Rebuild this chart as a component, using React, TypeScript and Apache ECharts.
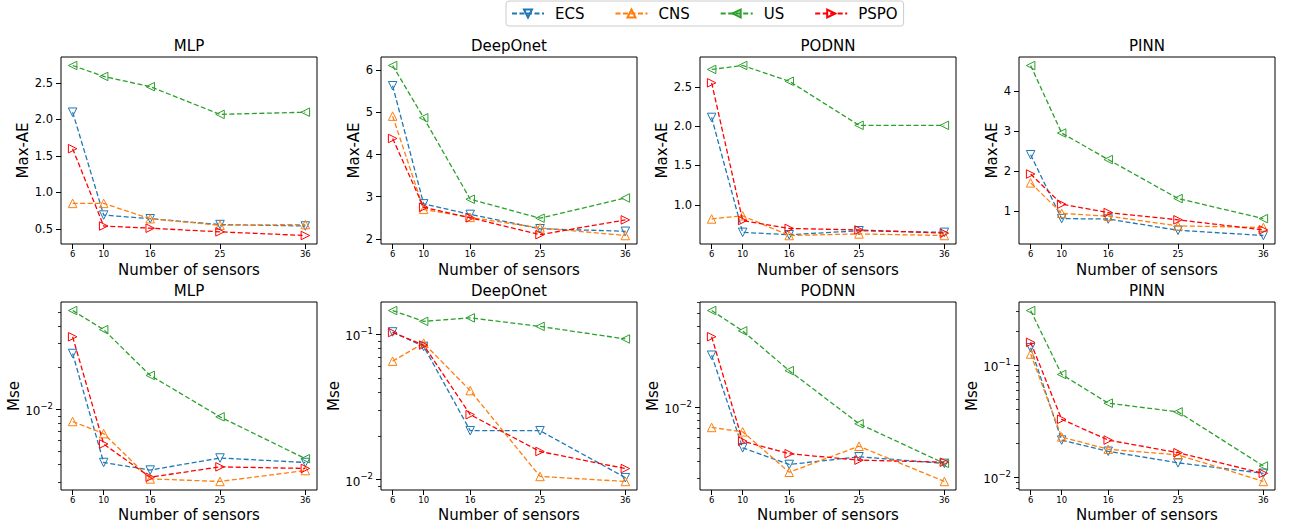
import React, { useEffect, useRef } from 'react';
import * as echarts from 'echarts';

// ---------------- data ----------------
const sensors = [6, 10, 16, 25, 36];
const methods = ['ECS', 'CNS', 'US', 'PSPO'];
const models = ['MLP', 'DeepOnet', 'PODNN', 'PINN'];

// Max-AE (top row)
const maxAE_MLP = {
  ECS: [2.10, 0.69, 0.64, 0.56, 0.54],
  CNS: [0.85, 0.85, 0.64, 0.55, 0.56],
  US: [2.74, 2.59, 2.45, 2.07, 2.10],
  PSPO: [1.60, 0.54, 0.51, 0.46, 0.41],
};
const maxAE_DeepOnet = {
  ECS: [5.63, 2.83, 2.58, 2.24, 2.18],
  CNS: [4.91, 2.70, 2.51, 2.26, 2.08],
  US: [6.11, 4.87, 2.94, 2.49, 2.97],
  PSPO: [4.38, 2.75, 2.50, 2.10, 2.45],
};
const maxAE_PODNN = {
  ECS: [2.11, 0.65, 0.62, 0.67, 0.65],
  CNS: [0.82, 0.86, 0.61, 0.63, 0.61],
  US: [2.72, 2.77, 2.57, 2.01, 2.01],
  PSPO: [2.55, 0.80, 0.70, 0.68, 0.64],
};
const maxAE_PINN = {
  ECS: [2.41, 0.82, 0.81, 0.53, 0.40],
  CNS: [1.71, 0.95, 0.88, 0.64, 0.60],
  US: [4.63, 2.95, 2.29, 1.32, 0.82],
  PSPO: [1.93, 1.18, 0.97, 0.79, 0.54],
};

// Mse (bottom row, log scale)
const mse_MLP = {
  ECS: [0.0253, 0.00415, 0.00366, 0.00447, 0.00415],
  CNS: [0.00819, 0.0067, 0.00316, 0.00303, 0.00363],
  US: [0.0516, 0.0376, 0.0176, 0.00885, 0.00442],
  PSPO: [0.0334, 0.00564, 0.00325, 0.00386, 0.00376],
};
const mse_DeepOnet = {
  ECS: [0.104, 0.0826, 0.0217, 0.0217, 0.0103],
  CNS: [0.0654, 0.087, 0.041, 0.0105, 0.0097],
  US: [0.146, 0.123, 0.130, 0.1135, 0.093],
  PSPO: [0.103, 0.0844, 0.028, 0.0156, 0.0119],
};
const mse_PODNN = {
  ECS: [0.0244, 0.00501, 0.00377, 0.0043, 0.00384],
  CNS: [0.0071, 0.00659, 0.0033, 0.00515, 0.00282],
  US: [0.0524, 0.037, 0.01875, 0.00756, 0.00384],
  PSPO: [0.0335, 0.00562, 0.00453, 0.00406, 0.00392],
};
const mse_PINN = {
  ECS: [0.143, 0.0214, 0.017, 0.0134, 0.0108],
  CNS: [0.1256, 0.0228, 0.0177, 0.0158, 0.00914],
  US: [0.307, 0.0825, 0.0457, 0.0382, 0.01256],
  PSPO: [0.1596, 0.0328, 0.0214, 0.0165, 0.0108],
};

const maxAEPanels = [maxAE_MLP, maxAE_DeepOnet, maxAE_PODNN, maxAE_PINN];
const msePanels = [mse_MLP, mse_DeepOnet, mse_PODNN, mse_PINN];

const maxAETicks = [
  [0.5, 1.0, 1.5, 2.0, 2.5],
  [2, 3, 4, 5, 6],
  [1.0, 1.5, 2.0, 2.5],
  [1, 2, 3, 4],
];
const maxAEDecimals = [1, 0, 1, 0];

// ---------------- styles / layout ----------------
const methodColors = ['#1f77b4', '#ff7f0e', '#2ca02c', '#ff0000'];
const methodRotate = [180, 0, 90, -90];

const FONT = 'DejaVu Sans';
const gridLefts = [61, 381, 700, 1019];
const gridWidth = 256;
const rowTops = [57, 302];
const rowHeights = [187, 188];
const titleTops = [38, 283];
const yNameGapsTop = [25, 20, 24, 18];
const yNameGapsBottom = [39, 39, 39, 38];
const xNameGaps = [18, 17];

function paddedRange(vals: number[]): [number, number] {
  const lo = Math.min(...vals);
  const hi = Math.max(...vals);
  const pad = 0.05 * (hi - lo);
  return [lo - pad, hi + pad];
}

function buildOption() {
  const grids: any[] = [];
  const xAxes: any[] = [];
  const yAxes: any[] = [];
  const series: any[] = [];
  const titles: any[] = [];

  for (let row = 0; row < 2; row++) {
    for (let col = 0; col < 4; col++) {
      const gi = row * 4 + col;
      const isLog = row === 1;
      const panel: any = isLog ? msePanels[col] : maxAEPanels[col];
      const tf = (v: number) => (isLog ? Math.log10(v) : v);
      const all: number[] = [];
      methods.forEach((m) => panel[m].forEach((v: number) => all.push(tf(v))));
      const [ymin, ymax] = paddedRange(all);

      grids.push({
        left: gridLefts[col],
        top: rowTops[row],
        width: gridWidth,
        height: rowHeights[row],
        show: true,
        borderColor: '#000',
        borderWidth: 1,
        backgroundColor: 'transparent',
      });

      titles.push({
        text: models[col],
        left: gridLefts[col] + gridWidth / 2,
        top: titleTops[row],
        textAlign: 'center',
        padding: 0,
        textStyle: { fontFamily: FONT, fontSize: 15, fontWeight: 'normal', color: '#000' },
      });

      xAxes.push({
        type: 'value',
        gridIndex: gi,
        min: 4.5,
        max: 37.5,
        axisLine: { show: false },
        splitLine: { show: false },
        axisTick: { show: true, customValues: sensors, length: 5, lineStyle: { color: '#000', width: 1 } },
        axisLabel: { customValues: sensors, fontSize: 8.5, margin: 5, color: '#000', fontFamily: FONT },
        name: 'Number of sensors',
        nameLocation: 'middle',
        nameGap: xNameGaps[row],
        nameTextStyle: { fontFamily: FONT, fontSize: 15, color: '#000' },
      });

      let majorTicks: number[];
      let minorTicks: number[] = [];
      if (isLog) {
        majorTicks = [];
        for (let n = Math.floor(ymin); n <= Math.ceil(ymax); n++) {
          if (n >= ymin && n <= ymax) majorTicks.push(n);
          for (let k = 2; k <= 9; k++) {
            const lv = n + Math.log10(k);
            if (lv >= ymin && lv <= ymax) minorTicks.push(lv);
          }
        }
      } else {
        majorTicks = maxAETicks[col];
      }

      const mainYIndex = yAxes.length;
      yAxes.push({
        type: 'value',
        gridIndex: gi,
        min: ymin,
        max: ymax,
        position: 'left',
        axisLine: { show: false },
        splitLine: { show: false },
        axisTick: { show: true, customValues: majorTicks, length: 5, lineStyle: { color: '#000', width: 1 } },
        axisLabel: isLog
          ? {
              customValues: majorTicks,
              margin: 8,
              color: '#000',
              fontFamily: FONT,
              formatter: (v: number) => `{b|10}{s|\u2212${Math.abs(Math.round(v))}}`,
              rich: {
                b: { fontSize: 12, fontFamily: FONT, color: '#000', padding: [4, 0, 0, 0] },
                s: { fontSize: 8.5, fontFamily: FONT, color: '#000', verticalAlign: 'top' },
              },
            }
          : {
              customValues: majorTicks,
              margin: 8,
              fontSize: 11.5,
              color: '#000',
              fontFamily: FONT,
              formatter: (v: number) => v.toFixed(maxAEDecimals[col]),
            },
        name: isLog ? 'Mse' : 'Max-AE',
        nameLocation: 'middle',
        nameRotate: 90,
        nameGap: isLog ? yNameGapsBottom[col] : yNameGapsTop[col],
        nameTextStyle: { fontFamily: FONT, fontSize: 15, color: '#000' },
      });

      if (isLog) {
        yAxes.push({
          type: 'value',
          gridIndex: gi,
          min: ymin,
          max: ymax,
          position: 'left',
          offset: 0,
          axisLine: { show: false },
          splitLine: { show: false },
          axisLabel: { show: false },
          axisTick: { show: true, customValues: minorTicks, length: 3, lineStyle: { color: '#000', width: 0.8 } },
        });
      }

      methods.forEach((m, mi) => {
        series.push({
          type: 'line',
          name: m,
          xAxisIndex: gi,
          yAxisIndex: mainYIndex,
          data: sensors.map((x, i) => [x, tf(panel[m][i])]),
          symbol: 'triangle',
          symbolSize: 8.5,
          symbolRotate: methodRotate[mi],
          showAllSymbol: true,
          lineStyle: { color: methodColors[mi], width: 1.3, type: [5, 2.5] },
          itemStyle: { color: 'rgba(255,255,255,0)', borderColor: methodColors[mi], borderWidth: 1 },
          emphasis: { disabled: true },
          z: 2 + mi,
        });
      });
    }
  }

  return {
    animation: false,
    backgroundColor: '#fff',
    textStyle: { fontFamily: FONT },
    title: titles,
    legend: {
      data: methods,
      left: 506,
      top: 1,
      orient: 'horizontal',
      itemWidth: 32,
      itemHeight: 10,
      itemGap: 30,
      padding: [5, 6, 5, 5],
      borderColor: '#cccccc',
      borderWidth: 1,
      borderRadius: 3,
      backgroundColor: '#fff',
      symbolRotate: 'inherit',
      textStyle: { fontFamily: FONT, fontSize: 15, color: '#000', padding: [0, 0, 0, 6] },
    },
    grid: grids,
    xAxis: xAxes,
    yAxis: yAxes,
    series,
  };
}

export default function App() {
  const ref = useRef<HTMLDivElement>(null);
  useEffect(() => {
    if (!ref.current) return;
    const chart = echarts.init(ref.current, undefined, { renderer: 'svg' });
    chart.setOption(buildOption() as any);
    return () => chart.dispose();
  }, []);
  return (
    <div
      ref={ref}
      style={{ position: 'fixed', left: 0, top: 0, width: 1290, height: 528, background: '#fff' }}
    />
  );
}
